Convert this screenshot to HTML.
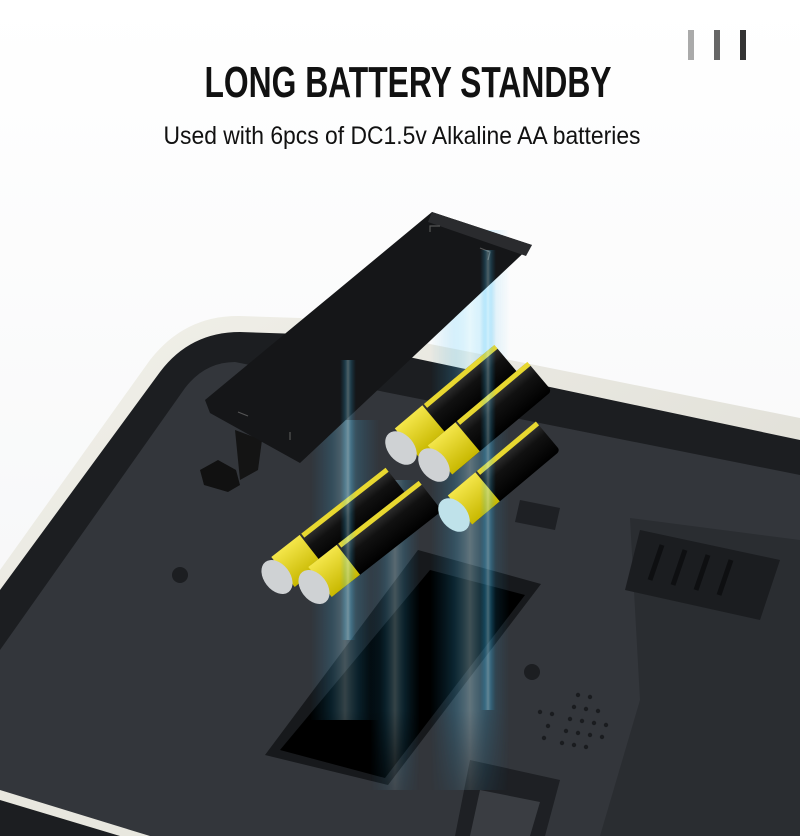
<!DOCTYPE html>
<html><head><meta charset="utf-8"><style>
html,body{margin:0;padding:0;background:#fff}
svg{display:block}
</style></head><body>
<svg width="800" height="836" viewBox="0 0 800 836" xmlns="http://www.w3.org/2000/svg">
<defs>
<linearGradient id="bg" x1="0" y1="0" x2="0" y2="1"><stop offset="0" stop-color="#ffffff"/><stop offset="1" stop-color="#f4f5f6"/></linearGradient>
<linearGradient id="frame" x1="0" y1="0" x2="1" y2="1"><stop offset="0" stop-color="#f2f1ea"/><stop offset="1" stop-color="#d9d8d0"/></linearGradient>
<linearGradient id="ray" x1="0" y1="0" x2="1" y2="0">
<stop offset="0" stop-color="#1aa0e0" stop-opacity="0"/><stop offset="0.3" stop-color="#3cc4ff" stop-opacity="0.4"/><stop offset="0.5" stop-color="#bff0ff" stop-opacity="0.7"/><stop offset="0.7" stop-color="#3cc4ff" stop-opacity="0.4"/><stop offset="1" stop-color="#1aa0e0" stop-opacity="0"/></linearGradient>
<linearGradient id="rayv" x1="0" y1="0" x2="0" y2="1">
<stop offset="0" stop-color="#fff" stop-opacity="0"/><stop offset="0.15" stop-color="#fff" stop-opacity="1"/><stop offset="0.85" stop-color="#fff" stop-opacity="1"/><stop offset="1" stop-color="#fff" stop-opacity="0"/></linearGradient>
<mask id="fade"><rect x="0" y="0" width="800" height="836" fill="url(#rayv)"/></mask>
<linearGradient id="bat" x1="0" y1="0" x2="0" y2="1"><stop offset="0" stop-color="#3a3a3a"/><stop offset="0.4" stop-color="#111"/><stop offset="1" stop-color="#000"/></linearGradient>
<linearGradient id="yel" x1="0" y1="0" x2="0" y2="1"><stop offset="0" stop-color="#f4e64a"/><stop offset="1" stop-color="#c8b800"/></linearGradient>
</defs>
<rect width="800" height="836" fill="url(#bg)"/>
<rect x="688" y="30" width="6" height="30" fill="#aaa"/>
<rect x="714" y="30" width="6" height="30" fill="#666"/>
<rect x="740" y="30" width="6" height="30" fill="#333"/>
<text x="408" y="97" text-anchor="middle" font-family="Liberation Sans, sans-serif" font-weight="bold" font-size="44" textLength="407" lengthAdjust="spacingAndGlyphs" fill="#111">LONG BATTERY STANDBY</text>
<text x="402" y="144" text-anchor="middle" font-family="Liberation Sans, sans-serif" font-size="25" textLength="477" lengthAdjust="spacingAndGlyphs" fill="#111">Used with 6pcs of DC1.5v Alkaline AA batteries</text>

<path d="M0 570 L150 360 Q185 315 240 316 L300 318 L800 418 L800 836 L0 836 Z" fill="url(#frame)"/>
<path d="M0 590 L160 372 Q190 332 240 332 L300 334 L800 440 L800 836 L0 836 Z" fill="#1c1e21"/>
<path d="M0 650 L185 388 Q205 362 235 362 L800 475 L800 836 L0 836 Z" fill="#33363b"/>
<path d="M0 790 L150 836 L0 836 Z" fill="#e8e7df"/>
<path d="M0 800 L120 836 L0 836 Z" fill="#1c1e21"/>
<path d="M630 518 L800 540 L800 836 L600 836 L640 700 Z" fill="#2a2d31"/>
<path d="M640 530 L780 560 L760 620 L625 590 Z" fill="#1b1d20"/>
<g stroke="#0e0f11" stroke-width="5">
<line x1="662" y1="545" x2="650" y2="580"/><line x1="685" y1="550" x2="673" y2="585"/><line x1="708" y1="555" x2="696" y2="590"/><line x1="731" y1="560" x2="719" y2="595"/>
</g>
<g fill="#1a1c1f">
<circle cx="578" cy="695" r="2.2"/><circle cx="590" cy="697" r="2.2"/><circle cx="574" cy="707" r="2.2"/><circle cx="586" cy="709" r="2.2"/><circle cx="598" cy="711" r="2.2"/><circle cx="570" cy="719" r="2.2"/><circle cx="582" cy="721" r="2.2"/><circle cx="594" cy="723" r="2.2"/><circle cx="606" cy="725" r="2.2"/><circle cx="566" cy="731" r="2.2"/><circle cx="578" cy="733" r="2.2"/><circle cx="590" cy="735" r="2.2"/><circle cx="602" cy="737" r="2.2"/><circle cx="562" cy="743" r="2.2"/><circle cx="574" cy="745" r="2.2"/><circle cx="586" cy="747" r="2.2"/><circle cx="540" cy="712" r="2.2"/><circle cx="552" cy="714" r="2.2"/><circle cx="548" cy="726" r="2.2"/><circle cx="544" cy="738" r="2.2"/>
</g>
<circle cx="532" cy="672" r="8" fill="#1c1e21"/>
<circle cx="180" cy="575" r="8" fill="#1c1e21"/>
<path d="M470 760 L560 780 L545 836 L455 836 Z" fill="#1e2024"/>
<path d="M480 790 L540 802 L530 836 L470 836 Z" fill="#3a3d42"/>
<path d="M520 500 L560 508 L555 530 L515 522 Z" fill="#1e2024"/>
<path d="M418 550 L541 584 L388 785 L265 755 Z" fill="#17191c"/>
<path d="M430 570 L525 595 L385 778 L280 750 Z" fill="#000"/>
<g mask="url(#fade)" opacity="0.8">
<rect x="430" y="230" width="80" height="560" fill="url(#ray)" opacity="0.6"/>
<rect x="310" y="420" width="70" height="300" fill="url(#ray)" opacity="0.5"/>
<rect x="370" y="480" width="50" height="310" fill="url(#ray)" opacity="0.5"/>
</g>
<path d="M200 470 L218 460 L236 470 L240 485 L228 492 L204 485 Z" fill="#111"/>
<path d="M235 430 L262 440 L258 470 L240 480 Z" fill="#141414"/>
<path d="M432 212 L532 245 L300 463 L210 413 L205 400 Z" fill="#151618"/>
<path d="M432 212 L532 245 L526 256 L428 222 Z" fill="#2a2b2e"/>
<path d="M430 232 l0 -6 l10 0 M480 248 l10 4 l-2 8 M238 412 l10 4 M290 440 l0 -8" stroke="#555" stroke-width="1.2" fill="none"/>
<g>
<g transform="translate(283,572) rotate(-38)">
<rect x="0" y="-19" width="145" height="38" rx="4" fill="url(#bat)"/><rect x="0" y="-19" width="36" height="38" fill="url(#yel)"/><rect x="38" y="-19" width="107" height="5" fill="#e8d830"/>
</g>
<g transform="translate(320,582) rotate(-38)">
<rect x="0" y="-19" width="140" height="38" rx="4" fill="url(#bat)"/><rect x="0" y="-19" width="36" height="38" fill="url(#yel)"/><rect x="38" y="-19" width="102" height="5" fill="#e8d830"/>
</g>
<g transform="translate(407,443) rotate(-40)">
<rect x="0" y="-19" width="130" height="38" rx="4" fill="url(#bat)"/><rect x="0" y="-19" width="36" height="38" fill="url(#yel)"/><rect x="38" y="-19" width="92" height="5" fill="#e8d830"/>
</g>
<g transform="translate(440,460) rotate(-40)">
<rect x="0" y="-19" width="130" height="38" rx="4" fill="url(#bat)"/><rect x="0" y="-19" width="36" height="38" fill="url(#yel)"/><rect x="38" y="-19" width="92" height="5" fill="#e8d830"/>
</g>
<g transform="translate(460,510) rotate(-40)">
<rect x="0" y="-19" width="115" height="38" rx="4" fill="url(#bat)"/><rect x="0" y="-19" width="36" height="38" fill="url(#yel)"/><rect x="38" y="-19" width="77" height="5" fill="#e8d830"/>
</g>
<ellipse cx="277" cy="577" rx="13" ry="19" transform="rotate(-38 277 577)" fill="#cfd2d4"/>
<ellipse cx="314" cy="587" rx="13" ry="19" transform="rotate(-38 314 587)" fill="#cfd2d4"/>
<ellipse cx="401" cy="448" rx="13" ry="19" transform="rotate(-40 401 448)" fill="#cfd2d4"/>
<ellipse cx="434" cy="465" rx="13" ry="19" transform="rotate(-40 434 465)" fill="#cfd2d4"/>
<ellipse cx="454" cy="515" rx="13" ry="19" transform="rotate(-40 454 515)" fill="#bfe2ea"/>
</g>
<g mask="url(#fade)">
<rect x="340" y="360" width="16" height="280" fill="url(#ray)" opacity="0.5"/>
<rect x="480" y="250" width="16" height="460" fill="url(#ray)" opacity="0.5"/>
</g>
</svg>
</body></html>
